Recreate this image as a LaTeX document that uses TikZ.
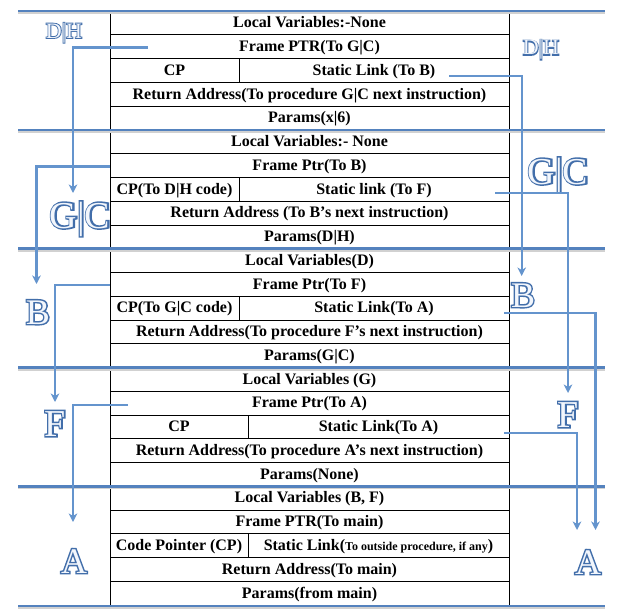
\documentclass[tikz,border=0pt]{standalone}
\usepackage{fontspec}
\setmainfont{Liberation Serif}
\newfontfamily\outfont[FakeBold=8]{Liberation Serif}
\usetikzlibrary{arrows.meta}
\definecolor{sepblue}{RGB}{84,130,190}
\definecolor{arrblue}{RGB}{100,148,205}
\definecolor{lblblue}{RGB}{66,110,170}
\definecolor{lblfill}{RGB}{242,246,252}
\newcommand{\outl}[2]{\fontsize{#1}{#1}\selectfont\makebox[0pt][l]{\outfont\textcolor{lblblue}{#2}}\textcolor{lblfill}{#2}}
\tikzset{
  cell/.style={font=\fontsize{16}{18}\selectfont\bfseries, inner sep=0pt, anchor=base},
  sep/.style={draw=sepblue, line width=2.6pt},
  sepshadow/.style={draw=black!18, line width=2pt},
  grid/.style={draw=black, line width=0.8pt},
  link/.style={draw=arrblue, line width=2.4pt, -{Stealth[length=8.5pt,width=8.5pt,inset=2.5pt]}},
  side/.style={inner sep=0pt, anchor=base},
}
\begin{document}
\begin{tikzpicture}[x=1pt,y=-1pt]
\useasboundingbox (0,0) rectangle (623,610);
% table frame and row lines
\draw[grid] (110,11) rectangle (509,606);
\foreach \t in {11,129.8,248.6,367.4,486.2}{
  \foreach \r in {1,2,3,4}{
    \draw[grid] (110,\t+\r*23.8) -- (509,\t+\r*23.8);
  }
}
% CP dividers
\draw[grid] (239,58.6) -- (239,82.4);
\draw[grid] (239,177.4) -- (239,201.2);
\draw[grid] (239,296.2) -- (239,320);
\draw[grid] (248,415) -- (248,438.8);
\draw[grid] (248,533.8) -- (248,557.6);
% separators
\foreach \y in {11,129.8,248.6,367.4,486.2,606}{
  \draw[sepshadow] (18,\y+2.2) -- (605,\y+2.2);
  \draw[sep] (18,\y) -- (605,\y);
}
% section 1 (D|H)
\node[cell] (a1) at (309.5,27.7) {Local Variables:-None};
\node[cell] (a2) at (309.5,51.5) {Frame PTR(To G|C)};
\node[cell] (a3l) at (174.5,75.3) {CP};
\node[cell] (a3r) at (374,75.3) {Static Link (To B)};
\node[cell] (a4) at (309.5,99.1) {Return Address(To procedure G|C next instruction)};
\node[cell] (a5) at (309.5,122.9) {Params(x|6)};
% section 2 (G|C)
\node[cell] (b1) at (309.5,146.5) {Local Variables:- None};
\node[cell] (b2) at (309.5,170.3) {Frame Ptr(To B)};
\node[cell] (b3l) at (174.5,194.1) {CP(To D|H code)};
\node[cell] (b3r) at (374,194.1) {Static link (To F)};
\node[cell] (b4) at (309.5,217.9) {Return Address (To B’s next instruction)};
\node[cell] (b5) at (309.5,241.7) {Params(D|H)};
% section 3 (B)
\node[cell] (c1) at (309.5,265.3) {Local Variables(D)};
\node[cell] (c2) at (309.5,289.1) {Frame Ptr(To F)};
\node[cell] (c3l) at (174.5,312.9) {CP(To G|C code)};
\node[cell] (c3r) at (374,312.9) {Static Link(To A)};
\node[cell] (c4) at (309.5,336.7) {Return Address(To procedure F’s next instruction)};
\node[cell] (c5) at (309.5,360.5) {Params(G|C)};
% section 4 (F)
\node[cell] (d1) at (309.5,384.1) {Local Variables (G)};
\node[cell] (d2) at (309.5,407.9) {Frame Ptr(To A)};
\node[cell] (d3l) at (179,431.7) {CP};
\node[cell] (d3r) at (378.5,431.7) {Static Link(To A)};
\node[cell] (d4) at (309.5,455.5) {Return Address(To procedure A’s next instruction)};
\node[cell] (d5) at (309.5,479.3) {Params(None)};
% section 5 (A)
\node[cell] (e1) at (309.5,502.9) {Local Variables (B, F)};
\node[cell] (e2) at (309.5,526.7) {Frame PTR(To main)};
\node[cell] (e3l) at (179,550.5) {Code Pointer (CP)};
\node[cell] (e3r) at (378.5,550.5) {Static Link({\fontsize{12}{13}\selectfont To outside procedure, if any})};
\node[cell] (e4) at (309.5,574.3) {Return Address(To main)};
\node[cell] (e5) at (309.5,598.1) {Params(from main)};
% side labels
\node[side] (dhL) at (64,38) {\outl{22}{D|H}};
\node[side] (dhR) at (541,55) {\outl{22}{D|H}};
\node[side] (gcL) at (80,228) {\outl{38}{G|C}};
\node[side] (gcR) at (558,184) {\outl{38}{G|C}};
\node[side] (bL) at (38,324) {\outl{36}{B}};
\node[side] (bR) at (523,307) {\outl{36}{B}};
\node[side] (fL) at (55,436) {\outl{38}{F}};
\node[side] (fR) at (568,427) {\outl{38}{F}};
\node[side] (aL) at (74,573) {\outl{36}{A}};
\node[side] (aR) at (588,574) {\outl{36}{A}};
% connector end points
\coordinate (p1) at (148,47.5);   \coordinate (q1) at (73,193);
\coordinate (p2) at (449,76);     \coordinate (q2) at (521.7,276);
\coordinate (p3) at (110,166.5);  \coordinate (q3) at (36.5,284);
\coordinate (p4) at (495,193);    \coordinate (q4) at (568,393);
\coordinate (p5) at (110,285);    \coordinate (q5) at (55,402);
\coordinate (p6) at (504,313);    \coordinate (q6) at (595.5,530);
\coordinate (p7) at (128,405);    \coordinate (q7) at (73,522);
\coordinate (p8) at (504,433);    \coordinate (q8) at (577,530);
\draw[link] (p1) -| (q1);
\draw[link] (p2) -| (q2);
\draw[link] (p3) -| (q3);
\draw[link] (p4) -| (q4);
\draw[link] (p5) -| (q5);
\draw[link] (p6) -| (q6);
\draw[link] (p7) -| (q7);
\draw[link] (p8) -| (q8);
\end{tikzpicture}
\end{document}
